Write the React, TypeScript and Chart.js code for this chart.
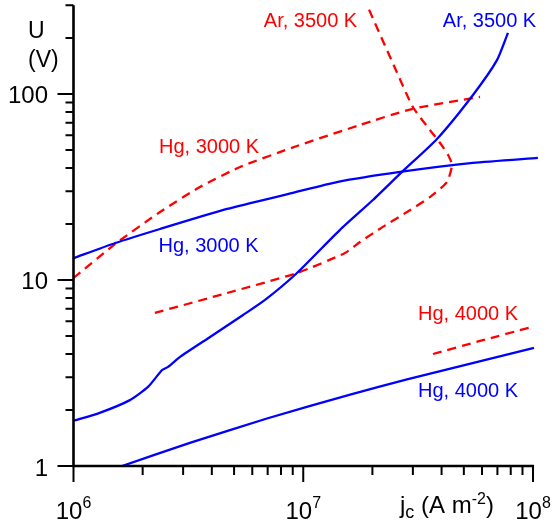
import React, { useEffect, useRef } from "react";
import { Chart, registerables } from "chart.js";
Chart.register(...registerables);

// Current density j_c (A m^-2) and voltage U (V)
const hg3000ModelJ = [1e6, 1.52e6, 2.38e6, 4.66e6, 9.02e6, 1.40e7, 2.64e7, 5.48e7, 1.05e8];
const hg3000ModelU = [13.1, 15.8, 18.8, 24.1, 29.4, 33.6, 38.1, 42.6, 45.3];

const ar3500ModelJ = [1e6, 1.30e6, 1.76e6, 2.11e6, 2.43e6, 2.58e6, 2.91e6, 3.93e6, 5.47e6, 6.82e6, 9.39e6, 1.445e7, 2.01e7, 2.69e7, 3.82e7, 5.48e7, 6.97e7, 7.78e7];
const ar3500ModelU = [1.75, 1.93, 2.26, 2.66, 3.28, 3.41, 3.86, 4.94, 6.48, 7.81, 10.9, 18.6, 26.9, 38.1, 57.3, 98.8, 152, 213];

const hg4000ModelJ = [1.626e6, 3.21e6, 6.95e6, 1.60e7, 2.83e7, 1.01e8];
const hg4000ModelU = [1.0, 1.33, 1.80, 2.42, 2.92, 4.31];

const hg3000RefJ = [1e6, 1.516e6, 2.38e6, 3.55e6, 5.31e6, 9.39e6, 1.766e7, 2.97e7, 5.88e7];
const hg3000RefU = [10.25, 15.6, 23.2, 31.6, 40.5, 52.5, 68.1, 83.0, 96.4];

const ar3500RefJ = [2.26e6, 4.66e6, 9.39e6, 1.52e7, 1.766e7, 2.22e7, 2.83e7, 3.56e7, 4.22e7, 4.44e7, 4.27e7, 3.94e7, 3.56e7, 3.0e7, 2.53e7, 1.895e7, 1.85e7];
const ar3500RefU = [6.65, 8.51, 10.9, 13.97, 16.0, 19.3, 23.2, 27.9, 33.6, 41.5, 47.0, 54.5, 64.0, 85.1, 134.6, 301, 330];

const hg4000RefJ = [3.67e7, 5.88e7, 9.9e7];
const hg4000RefU = [4.0, 4.7, 5.59];

const xMajorTicks = [1e6, 1e7, 1e8];
const xTickExponents = ["6", "7", "8"];
const yMajorTicks = [1, 10, 100];
const yTickLabels = ["1", "10", "100"];

const curveLabels = ["Ar, 3500 K", "Ar, 3500 K", "Hg, 3000 K", "Hg, 3000 K", "Hg, 4000 K", "Hg, 4000 K"];

const BLUE = "#0000ff";
const RED = "#ff0000";
const FONT = "'Liberation Sans', Arial, Helvetica, sans-serif";

const labelPlacement = [
  { cx: 310.5, by: 27, color: RED },
  { cx: 489.5, by: 27, color: BLUE },
  { cx: 209, by: 153, color: RED },
  { cx: 208.5, by: 252, color: BLUE },
  { cx: 468, by: 320, color: RED },
  { cx: 468, by: 397, color: BLUE },
];

function pts(xs: number[], ys: number[]) {
  return xs.map((x, i) => ({ x, y: ys[i] }));
}

const axesPlugin = {
  id: "customAxes",
  afterDraw(chart: any) {
    const ctx: CanvasRenderingContext2D = chart.ctx;
    const xs = chart.scales.x;
    const ys = chart.scales.y;
    const xL = xs.getPixelForValue(1e6);
    const xR = xs.getPixelForValue(1e8);
    const yB = ys.getPixelForValue(1);
    const yT = ys.getPixelForValue(300);
    ctx.save();
    ctx.strokeStyle = "#000";
    ctx.fillStyle = "#000";
    ctx.lineCap = "butt";
    ctx.lineWidth = 2.6;
    ctx.beginPath();
    ctx.moveTo(xL, yT);
    ctx.lineTo(xL, yB + 1.3);
    ctx.moveTo(xL - 1.3, yB);
    ctx.lineTo(xR + 1, yB);
    ctx.stroke();
    ctx.lineWidth = 2;
    ctx.beginPath();
    for (let d = 1; d <= 100; d *= 10) {
      for (let m = 1; m <= 9; m++) {
        const v = d * m;
        if (v > 300) break;
        const py = ys.getPixelForValue(v);
        const len = m === 1 ? 16 : 8;
        ctx.moveTo(xL, py);
        ctx.lineTo(xL - len, py);
      }
    }
    for (let d = 1e6; d <= 1e8; d *= 10) {
      for (let m = 1; m <= 9; m++) {
        const v = d * m;
        if (v > 1e8 * 1.0001) break;
        const px = xs.getPixelForValue(v);
        const len = m === 1 ? 16 : 9;
        ctx.moveTo(px, yB);
        ctx.lineTo(px, yB + len);
      }
    }
    ctx.stroke();

    ctx.font = `24px ${FONT}`;
    ctx.textAlign = "right";
    ctx.textBaseline = "alphabetic";
    yMajorTicks.forEach((v, i) => {
      const py = ys.getPixelForValue(v);
      ctx.fillText(yTickLabels[i], 48, py + 9.5);
    });

    ctx.textAlign = "left";
    xMajorTicks.forEach((v, i) => {
      const px = xs.getPixelForValue(v);
      ctx.font = `24px ${FONT}`;
      const w1 = ctx.measureText("10").width;
      ctx.font = `16px ${FONT}`;
      const w2 = ctx.measureText(xTickExponents[i]).width;
      const start = px - (w1 + w2) / 2;
      ctx.font = `24px ${FONT}`;
      ctx.fillText("10", start, 519);
      ctx.font = `16px ${FONT}`;
      ctx.fillText(xTickExponents[i], start + w1, 507.5);
    });

    ctx.font = `23px ${FONT}`;
    ctx.fillText("U", 28, 38);
    ctx.fillText("(V)", 28, 67);

    const segs = [
      { t: "j", s: 24, dy: 0 },
      { t: "c", s: 18, dy: 5 },
      { t: " (A m", s: 24, dy: 0 },
      { t: "-2", s: 16, dy: -9 },
      { t: ")", s: 24, dy: 0 },
    ];
    let x = 400;
    segs.forEach((sg) => {
      ctx.font = `${sg.s}px ${FONT}`;
      ctx.fillText(sg.t, x, 513 + sg.dy);
      x += ctx.measureText(sg.t).width;
    });

    ctx.font = `20px ${FONT}`;
    ctx.textAlign = "center";
    curveLabels.forEach((t, i) => {
      const p = labelPlacement[i];
      ctx.fillStyle = p.color;
      ctx.fillText(t, p.cx, p.by);
    });
    ctx.restore();
  },
};

export default function App() {
  const ref = useRef<HTMLCanvasElement | null>(null);
  useEffect(() => {
    if (!ref.current) return;
    const solid = (xs: number[], ys: number[]) => ({
      data: pts(xs, ys),
      borderColor: BLUE,
      borderWidth: 2.3,
      showLine: true,
      pointRadius: 0,
      fill: false,
      tension: 0.2,
    });
    const dashed = (xs: number[], ys: number[]) => ({
      data: pts(xs, ys),
      borderColor: RED,
      borderWidth: 2.3,
      borderDash: [9, 6],
      showLine: true,
      pointRadius: 0,
      fill: false,
      tension: 0.2,
    });
    const chart = new Chart(ref.current, {
      type: "scatter",
      data: {
        datasets: [
          solid(hg3000ModelJ, hg3000ModelU),
          solid(ar3500ModelJ, ar3500ModelU),
          solid(hg4000ModelJ, hg4000ModelU),
          dashed(hg3000RefJ, hg3000RefU),
          dashed(ar3500RefJ, ar3500RefU),
          dashed(hg4000RefJ, hg4000RefU),
        ] as any,
      },
      options: {
        responsive: false,
        animation: false,
        layout: { padding: { left: 73.5, right: 14.25, top: 5.2, bottom: 59 } },
        plugins: { legend: { display: false }, tooltip: { enabled: false } },
        scales: {
          x: { type: "logarithmic", min: 1e6, max: 1.07e8, display: false },
          y: { type: "logarithmic", min: 1, max: 300, display: false },
        },
      },
      plugins: [axesPlugin],
    });
    return () => chart.destroy();
  }, []);
  return (
    <div style={{ position: "absolute", left: 0, top: 0, width: 554, height: 525, background: "#fff" }}>
      <canvas ref={ref} width={554} height={525} />
    </div>
  );
}
